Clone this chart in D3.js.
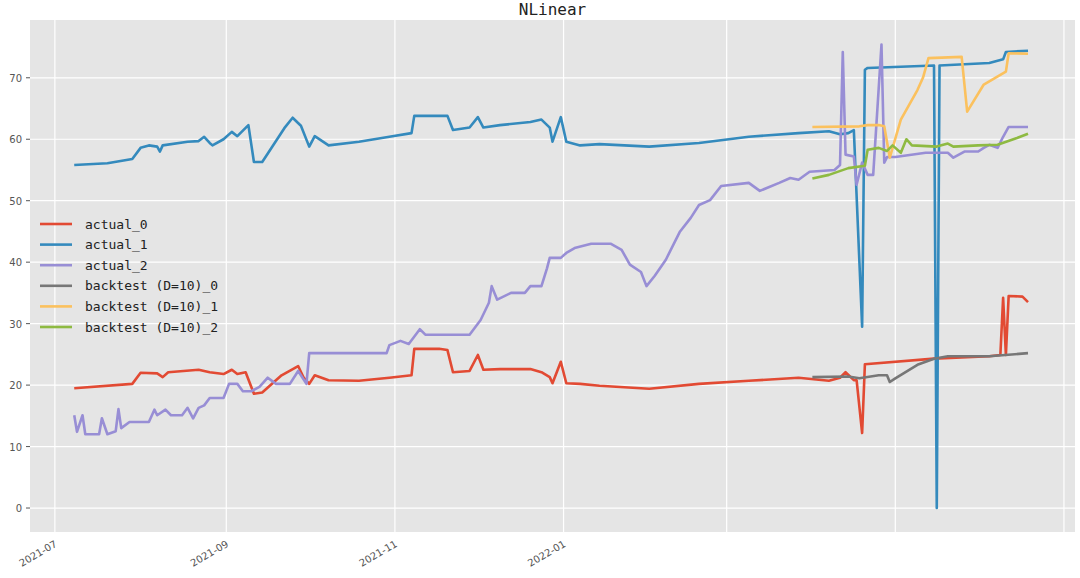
<!DOCTYPE html>
<html><head><meta charset="utf-8">
<script src="https://cdn.jsdelivr.net/npm/d3@7"></script>
<style>body{margin:0;background:#fff}</style>
</head><body><div id="chart"></div>
<script>
var gridMonths = ["2021-07-01","2021-09-01","2021-11-01","2022-01-01","2022-03-01","2022-05-01","2022-07-01"];
var tickLabels = ["2021-07","2021-09","2021-11","2022-01","","",""];
var yTicks = [0,10,20,30,40,50,60,70];

var actual0 = [["2021-07-08",19.5],["2021-07-29",20.2],["2021-08-01",22],["2021-08-07",21.9],["2021-08-09",21.3],["2021-08-11",22.1],["2021-08-22",22.5],["2021-08-26",22.1],["2021-08-31",21.8],["2021-09-03",22.5],["2021-09-05",21.8],["2021-09-08",22.1],["2021-09-11",18.6],["2021-09-14",18.8],["2021-09-21",21.6],["2021-09-27",23.1],["2021-09-29",21.2],["2021-10-01",20.2],["2021-10-03",21.6],["2021-10-08",20.8],["2021-10-19",20.7],["2021-10-30",21.2],["2021-11-07",21.6],["2021-11-08",25.9],["2021-11-17",25.9],["2021-11-20",25.7],["2021-11-22",22.1],["2021-11-28",22.3],["2021-12-01",24.9],["2021-12-03",22.5],["2021-12-09",22.6],["2021-12-20",22.6],["2021-12-24",22.1],["2021-12-27",21.3],["2021-12-28",20.3],["2021-12-31",23.8],["2022-01-02",20.3],["2022-01-07",20.2],["2022-01-14",19.9],["2022-02-01",19.4],["2022-02-19",20.2],["2022-03-09",20.7],["2022-03-27",21.2],["2022-04-07",20.7],["2022-04-11",21.2],["2022-04-13",22.1],["2022-04-16",20.8],["2022-04-17",20.8],["2022-04-19",12.2],["2022-04-20",23.4],["2022-05-15",24.3],["2022-06-04",24.7],["2022-06-08",24.9],["2022-06-09",34.2],["2022-06-10",24.9],["2022-06-11",34.5],["2022-06-16",34.4],["2022-06-18",33.5]];

var actual1 = [["2021-07-08",55.8],["2021-07-20",56.1],["2021-07-29",56.8],["2021-08-01",58.6],["2021-08-04",59],["2021-08-07",58.8],["2021-08-08",58],["2021-08-09",59],["2021-08-18",59.6],["2021-08-22",59.7],["2021-08-24",60.4],["2021-08-26",59.4],["2021-08-27",59],["2021-08-31",60],["2021-09-03",61.2],["2021-09-05",60.5],["2021-09-09",62.3],["2021-09-11",56.3],["2021-09-14",56.3],["2021-09-22",61.8],["2021-09-25",63.5],["2021-09-28",62.2],["2021-10-01",58.8],["2021-10-03",60.5],["2021-10-08",59],["2021-10-19",59.6],["2021-10-30",60.4],["2021-11-07",61],["2021-11-08",63.8],["2021-11-20",63.8],["2021-11-22",61.5],["2021-11-28",61.9],["2021-12-01",63.6],["2021-12-03",61.9],["2021-12-09",62.3],["2021-12-20",62.8],["2021-12-24",63.2],["2021-12-27",61.9],["2021-12-28",59.6],["2021-12-31",63.6],["2022-01-02",59.6],["2022-01-07",59],["2022-01-14",59.2],["2022-02-01",58.8],["2022-02-19",59.4],["2022-03-09",60.4],["2022-03-27",61],["2022-04-07",61.3],["2022-04-11",60.8],["2022-04-14",61],["2022-04-16",61.5],["2022-04-19",29.5],["2022-04-20",71.3],["2022-04-21",71.6],["2022-05-15",72],["2022-05-16",0],["2022-05-17",72],["2022-06-04",72.4],["2022-06-09",73],["2022-06-10",74.2],["2022-06-18",74.4]];

var actual2 = [["2021-07-08",15.1],["2021-07-09",12.4],["2021-07-11",15.1],["2021-07-12",12],["2021-07-17",12],["2021-07-18",14.6],["2021-07-20",12],["2021-07-23",12.5],["2021-07-24",16.1],["2021-07-25",13],["2021-07-28",14],["2021-08-04",14],["2021-08-06",16],["2021-08-07",15.1],["2021-08-10",16],["2021-08-12",15.1],["2021-08-16",15.1],["2021-08-18",16.3],["2021-08-20",14.6],["2021-08-22",16.3],["2021-08-24",16.7],["2021-08-26",17.9],["2021-08-31",17.9],["2021-09-02",20.2],["2021-09-05",20.2],["2021-09-07",19],["2021-09-10",19],["2021-09-13",19.7],["2021-09-16",21.2],["2021-09-19",20.2],["2021-09-24",20.2],["2021-09-27",22.3],["2021-09-30",20.2],["2021-10-01",25.2],["2021-10-19",25.2],["2021-10-29",25.2],["2021-10-30",26.5],["2021-11-03",27.2],["2021-11-06",26.7],["2021-11-10",29.1],["2021-11-12",28.2],["2021-11-28",28.2],["2021-12-02",30.6],["2021-12-05",33.4],["2021-12-06",36.1],["2021-12-08",33.9],["2021-12-13",35],["2021-12-18",35],["2021-12-20",36.1],["2021-12-24",36.1],["2021-12-26",39],["2021-12-27",40.7],["2021-12-31",40.7],["2022-01-02",41.5],["2022-01-05",42.3],["2022-01-11",43],["2022-01-18",43],["2022-01-22",42],["2022-01-25",39.6],["2022-01-29",38.4],["2022-01-31",36.1],["2022-02-03",37.8],["2022-02-07",40.4],["2022-02-12",44.9],["2022-02-16",47.2],["2022-02-19",49.3],["2022-02-23",50.1],["2022-02-27",52.4],["2022-03-09",52.9],["2022-03-13",51.6],["2022-03-20",52.9],["2022-03-24",53.7],["2022-03-27",53.4],["2022-03-31",54.7],["2022-04-09",55],["2022-04-11",55.8],["2022-04-12",74.2],["2022-04-13",57.5],["2022-04-16",57.2],["2022-04-17",52.6],["2022-04-19",56.2],["2022-04-21",54.2],["2022-04-23",54.2],["2022-04-26",75.4],["2022-04-27",56.2],["2022-04-28",57.1],["2022-05-01",57.1],["2022-05-12",57.8],["2022-05-20",57.8],["2022-05-22",57],["2022-05-26",58],["2022-05-31",58],["2022-06-02",58.6],["2022-06-04",59.1],["2022-06-07",58.6],["2022-06-09",60.4],["2022-06-11",62],["2022-06-18",62]];

var backtest0 = [["2022-04-01",21.3],["2022-04-14",21.4],["2022-04-18",21.1],["2022-04-25",21.6],["2022-04-28",21.6],["2022-04-29",20.5],["2022-05-01",21.1],["2022-05-09",23.3],["2022-05-15",24.3],["2022-05-20",24.7],["2022-06-04",24.7],["2022-06-18",25.2]];

var backtest1 = [["2022-04-01",62],["2022-04-18",62.1],["2022-04-21",62.3],["2022-04-25",62.3],["2022-04-27",62.1],["2022-04-29",57],["2022-05-03",63.2],["2022-05-09",68],["2022-05-11",70],["2022-05-13",73.2],["2022-05-25",73.4],["2022-05-27",64.5],["2022-06-02",68.9],["2022-06-10",71],["2022-06-11",74],["2022-06-18",73.9]];

var backtest2 = [["2022-04-01",53.6],["2022-04-07",54.2],["2022-04-14",55.3],["2022-04-20",55.7],["2022-04-21",58.3],["2022-04-25",58.6],["2022-04-28",58.1],["2022-04-30",59],["2022-05-03",57.8],["2022-05-05",60],["2022-05-07",59],["2022-05-16",58.8],["2022-05-20",59.3],["2022-05-22",58.8],["2022-05-31",59],["2022-06-07",59.1],["2022-06-14",60.2],["2022-06-18",60.9]];

var seriesNames = ["actual_0","actual_1","actual_2","backtest (D=10)_0","backtest (D=10)_1","backtest (D=10)_2"];
var seriesData = [actual0, actual1, actual2, backtest0, backtest1, backtest2];
var colors = ["#E24A33","#348ABD","#988ED5","#777777","#FBC15E","#8EBA42"];

var width = 1080, height = 578;
var mLeft = 30, mRight = 1075, mTop = 20, mBottom = 532;
var parse = d3.timeParse("%Y-%m-%d");

var svg = d3.select("#chart").append("svg")
    .attr("width", width).attr("height", height);

var x = d3.scaleTime()
    .domain([parse("2021-06-22"), parse("2022-07-05")])
    .range([mLeft, mRight]);
var y = d3.scaleLinear().domain([-3.9, 79.4]).range([mBottom, mTop]);

svg.append("rect").attr("x", mLeft).attr("y", mTop)
    .attr("width", mRight-mLeft).attr("height", mBottom-mTop).style("fill", "#E5E5E5");

// grid
svg.selectAll(".vg").data(gridMonths).enter().append("line")
    .attr("x1", d => x(parse(d))).attr("x2", d => x(parse(d)))
    .attr("y1", mTop).attr("y2", mBottom)
    .style("stroke", "#fff").style("stroke-width", 1.2);
svg.selectAll(".hg").data(yTicks).enter().append("line")
    .attr("x1", mLeft).attr("x2", mRight)
    .attr("y1", d => y(d)).attr("y2", d => y(d))
    .style("stroke", "#fff").style("stroke-width", 1.2);

// y labels
svg.selectAll(".yl").data(yTicks).enter().append("text")
    .attr("x", mLeft-8).attr("y", d => y(d)+4)
    .attr("text-anchor", "end")
    .style("font", "10px 'DejaVu Sans'").style("fill", "#555")
    .text(d => d);
svg.selectAll(".yt").data(yTicks).enter().append("line")
    .attr("x1", mLeft-4).attr("x2", mLeft)
    .attr("y1", d => y(d)).attr("y2", d => y(d)).style("stroke", "#555");

// x labels
gridMonths.forEach(function(m, i){
    if(!tickLabels[i]) return;
    var px = x(parse(m));
    svg.append("text")
        .attr("transform", "translate(" + (px+3) + "," + (mBottom+14) + ") rotate(-30)")
        .attr("text-anchor", "end")
        .style("font", "10px 'DejaVu Sans'").style("fill", "#555")
        .text(tickLabels[i]);
});

var line = d3.line().x(d => x(parse(d[0]))).y(d => y(d[1]));

seriesData.forEach(function(s, i){
    svg.append("path").datum(s)
        .attr("d", line)
        .style("fill", "none")
        .style("stroke", colors[i])
        .style("stroke-width", 2.6)
        .style("stroke-linejoin", "round");
});

// title
svg.append("text").attr("x", (mLeft+mRight)/2).attr("y", 15)
    .attr("text-anchor", "middle")
    .style("font", "16px 'DejaVu Sans Mono'").style("fill", "#222")
    .text("NLinear");

// legend
seriesNames.forEach(function(n, i){
    var ly = 224 + i*20.6;
    svg.append("line").attr("x1", 40).attr("x2", 72)
        .attr("y1", ly).attr("y2", ly)
        .style("stroke", colors[i]).style("stroke-width", 2.6);
    svg.append("text").attr("x", 85).attr("y", ly+4.5)
        .style("font", "13px 'DejaVu Sans Mono'").style("fill", "#222")
        .text(n);
});
</script></body></html>
